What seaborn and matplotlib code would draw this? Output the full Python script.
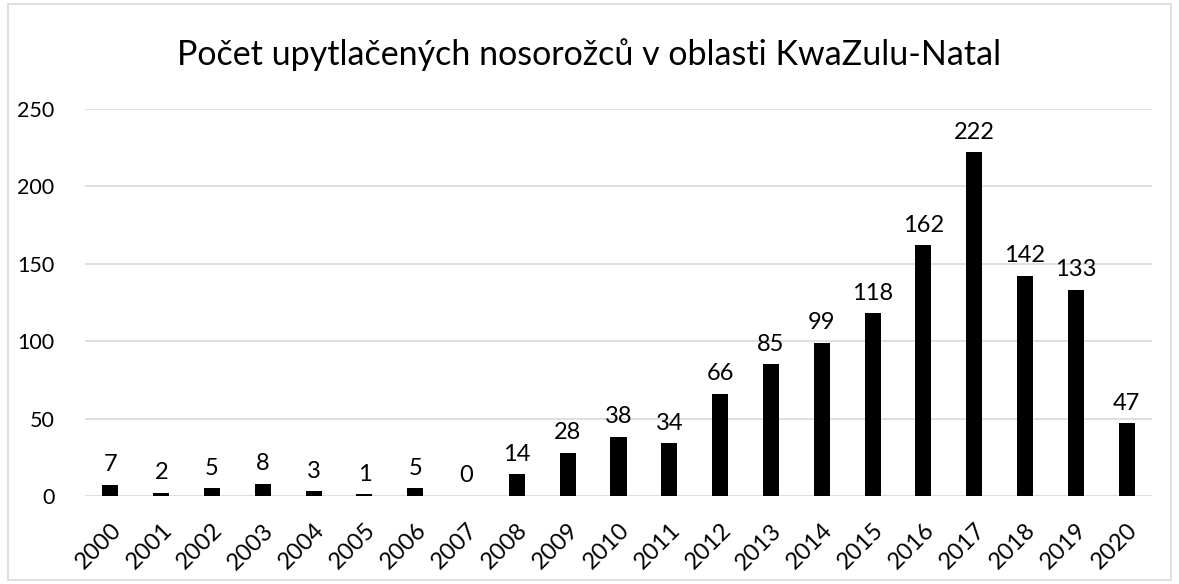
import matplotlib
matplotlib.use("Agg")
import matplotlib.pyplot as plt
import seaborn as sns
import pandas as pd
from matplotlib.patches import Rectangle

years = [str(y) for y in range(2000, 2021)]
values = [7, 2, 5, 8, 3, 1, 5, 0, 14, 28, 38, 34, 66, 85, 99, 118, 162, 222, 142, 133, 47]
title = "Počet upytlačených nosorožců v oblasti KwaZulu-Natal"
yticks = [0, 50, 100, 150, 200, 250]

sns.set_theme(style="white")
plt.rcParams['font.family'] = ['Lato', 'DejaVu Sans']

df = pd.DataFrame({"year": years, "value": values})

fig = plt.figure(figsize=(11.79, 5.84), dpi=100)
ax = fig.add_axes([85/1179, 1-496/584, (1152-85)/1179, (496-109)/584])

sns.barplot(data=df, x="year", y="value", color="black", width=0.315,
            saturation=1, ax=ax, zorder=3)
for p in ax.patches:
    p.set_edgecolor("none")

ax.set_ylim(0, 250)
ax.set_yticks(yticks)
ax.set_xlim(-0.5, len(years) - 0.5)
ax.grid(axis="y", color="#d9d9d9", linewidth=1.2, zorder=0)
ax.set_axisbelow(True)
for s in ax.spines.values():
    s.set_visible(False)
ax.tick_params(axis="both", length=0, colors="black")
ax.tick_params(axis="y", pad=22, labelsize=15.5)
ax.tick_params(axis="x", pad=17, labelsize=17)
plt.setp(ax.get_xticklabels(), rotation=45, ha="right", rotation_mode="anchor")
ax.set_xlabel("")
ax.set_ylabel("")

for i, v in enumerate(values):
    ax.annotate(str(v), (i, v), xytext=(0, 7), textcoords="offset points",
                ha="center", va="bottom", fontsize=17, color="black")

fig.text(0.5, 1-55/584, title, ha="center", va="center", fontsize=24.5, color="black")

fig.patches.append(Rectangle((8/1179, 4/584), 1-16/1179, 1-8/584, transform=fig.transFigure,
                             fill=False, edgecolor="#d9d9d9", linewidth=1.2))

fig.savefig("out.png", dpi=100, facecolor="white")
